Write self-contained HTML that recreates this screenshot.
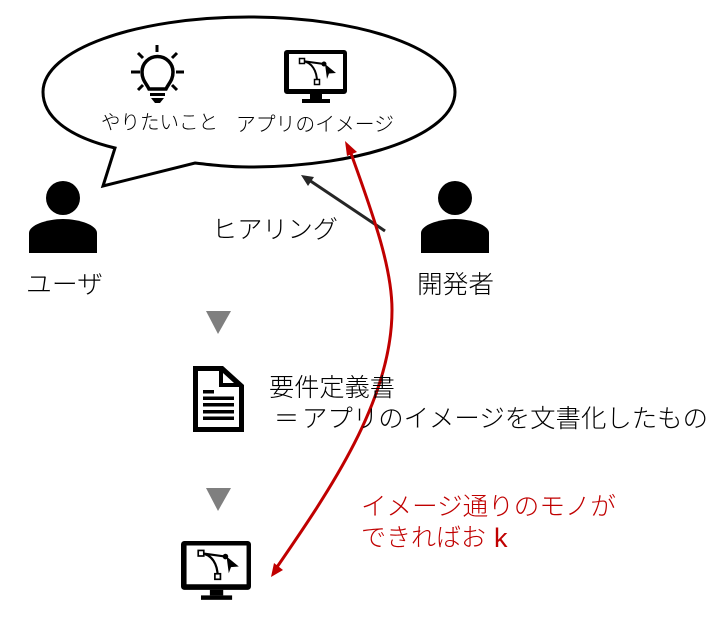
<!DOCTYPE html>
<html><head><meta charset="utf-8"><style>
html,body{margin:0;padding:0;background:#fff}
#c{position:relative;width:721px;height:621px;overflow:hidden;background:#fff}
svg{position:absolute;left:0;top:0}
text{font-family:"Liberation Sans","Noto Sans CJK JP",sans-serif;fill:#000;font-weight:300}
</style></head><body><div id="c">
<svg width="721" height="621" viewBox="0 0 721 621">
<defs>
<g id="mon">
<path fill-rule="evenodd" d="M3 0H60a3 3 0 0 1 3 3V41a3 3 0 0 1-3 3H3a3 3 0 0 1-3-3V3a3 3 0 0 1 3-3ZM5 4V39H59V4Z" fill="#000"/>
<rect x="26" y="44" width="12" height="5" fill="#000"/>
<rect x="18" y="49" width="28" height="4" fill="#000"/>
<path d="M18 11L40 14M18 11C28 12 33 21 33 32" fill="none" stroke="#000" stroke-width="2"/>
<rect x="15.500" y="8.500" width="5" height="5" fill="#fff" stroke="#000" stroke-width="1.500"/>
<rect x="30.500" y="29.500" width="5" height="5" fill="#fff" stroke="#000" stroke-width="1.500"/>
<circle cx="40" cy="14" r="2.500" fill="#000"/>
<path d="M41 14L52 23L45 23.500L43 29Z" fill="#000"/>
</g>
<g id="person">
<circle cx="34" cy="17" r="17" fill="#000"/>
<path d="M0 72V52C0 44 18 38 34 38C50 38 68 44 68 52V72Z" fill="#000"/>
</g>
</defs>

<path d="M115 148C65 136 43 115 43 92C43 50 135 17 249 17C363 17 455 50 455 92C455 134 363 167 249 167C229 167 212 165 195 163L103 186Z" fill="#fff" stroke="#000" stroke-width="3"/>

<path d="M149 89C146 83 142 80 142 72A15.500 15.500 0 0 1 173 72C173 80 169 83 166 89Z" fill="none" stroke="#000" stroke-width="3.500"/>
<path d="M157 45V52M138 53L143 58M177 53L172 58M131 72H140M176 72H184M138 90L143 85M177 90L172 85" fill="none" stroke="#000" stroke-width="3"/>
<rect x="150" y="93" width="15" height="3" fill="#000"/>
<path d="M151 98H164L160 103H155Z" fill="#000"/>

<use href="#mon" x="284" y="50"/>
<use href="#mon" transform="translate(181 541) scale(1.111 1.110)"/>

<use href="#person" x="29" y="181"/>
<use href="#person" x="421" y="181"/>

<path d="M206 311H231L218 334Z" fill="#7f7f7f"/>
<path d="M206 488H231L218 511Z" fill="#7f7f7f"/>

<path fill-rule="evenodd" d="M193 366H223L244 385V432H193ZM198 371V427H239V387H219V371ZM223 373V383H234Z" fill="#000"/>
<rect x="203" y="390" width="11" height="3.500" fill="#000"/>
<rect x="203" y="396.500" width="31" height="3.500" fill="#000"/>
<rect x="203" y="403" width="31" height="3.500" fill="#000"/>
<rect x="203" y="410" width="31" height="3.500" fill="#000"/>
<rect x="203" y="416.500" width="31" height="3.500" fill="#000"/>

<path d="M385 231L309 180" stroke="#262626" stroke-width="3" fill="none"/>
<path d="M301 175L314 177L308 186Z" fill="#262626"/>

<path d="M349 148C376 222 392 270 392 310C392 400 330 490 275 570" fill="none" stroke="#c00000" stroke-width="3"/>
<path d="M345 141L357 152L347 156Z" fill="#c00000"/>
<path d="M271 577L274 563L283 570Z" fill="#c00000"/>

<text x="101" y="129" font-size="20" textLength="117" lengthAdjust="spacingAndGlyphs">やりたいこと</text>
<text x="236" y="131" font-size="20" textLength="158" lengthAdjust="spacingAndGlyphs">アプリのイメージ</text>
<text x="212" y="238" font-size="25" textLength="126" lengthAdjust="spacingAndGlyphs">ヒアリング</text>
<text x="26" y="293" font-size="25" textLength="77" lengthAdjust="spacingAndGlyphs">ユーザ</text>
<text x="417" y="293" font-size="25" textLength="77" lengthAdjust="spacingAndGlyphs">開発者</text>
<text x="269" y="396" font-size="25" textLength="126" lengthAdjust="spacingAndGlyphs">要件定義書</text>
<text x="274" y="427" font-size="25">＝</text>
<text x="302" y="427" font-size="25" textLength="406" lengthAdjust="spacingAndGlyphs">アプリのイメージを文書化したもの</text>
<text x="361" y="515" font-size="25" textLength="255" lengthAdjust="spacingAndGlyphs" style="fill:#c00000">イメージ通りのモノが</text>
<text x="361" y="546" font-size="25" style="fill:#c00000">できればお</text>
<text x="494" y="547" font-size="27" style="fill:#c00000">k</text>
</svg>
</div></body></html>
